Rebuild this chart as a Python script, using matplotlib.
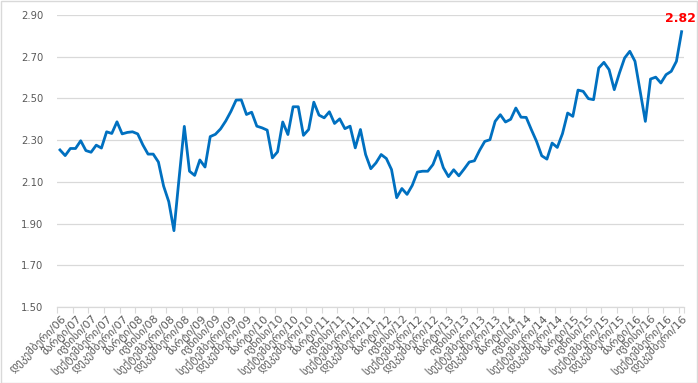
import matplotlib
matplotlib.use("Agg")
import matplotlib.pyplot as plt
from matplotlib.patches import Rectangle

values = [2.253, 2.226, 2.26, 2.26, 2.297, 2.25, 2.242, 2.276, 2.262, 2.34,
          2.332, 2.388, 2.33, 2.337, 2.34, 2.33, 2.277, 2.233, 2.233, 2.195,
          2.08, 2.005, 1.866, 2.12, 2.366, 2.151, 2.131, 2.205, 2.171, 2.317,
          2.328, 2.354, 2.392, 2.438, 2.492, 2.493, 2.423, 2.434, 2.367, 2.359,
          2.348, 2.215, 2.244, 2.387, 2.327, 2.46, 2.46, 2.323, 2.351, 2.482,
          2.42, 2.407, 2.436, 2.38, 2.402, 2.355, 2.367, 2.263, 2.351, 2.231,
          2.163, 2.191, 2.231, 2.212, 2.159, 2.024, 2.068, 2.04, 2.083, 2.147,
          2.151, 2.151, 2.183, 2.247, 2.168, 2.125, 2.158, 2.129, 2.161, 2.195,
          2.201, 2.251, 2.294, 2.302, 2.39, 2.422, 2.387, 2.40, 2.454, 2.41,
          2.409, 2.35, 2.294, 2.225, 2.209, 2.286, 2.265, 2.331, 2.43, 2.414,
          2.54, 2.534, 2.499, 2.494, 2.646, 2.673, 2.638, 2.542, 2.622, 2.694,
          2.726, 2.678, 2.534, 2.39, 2.593, 2.602, 2.574, 2.614, 2.63, 2.678,
          2.82]

months = ["მარტი", "ივნისი", "სექტემბერი", "დეკემბერი"]
years = ["07", "08", "09", "10", "11", "12", "13", "14", "15", "16"]
tick_labels = ["დეკემბერი/06"] + [f"{m}/{y}" for y in years for m in months]
y_ticks = [1.50, 1.70, 1.90, 2.10, 2.30, 2.50, 2.70, 2.90]

fig = plt.figure(figsize=(6.98, 3.83), dpi=100)
ax = fig.add_axes([57.4 / 698, 1 - 307 / 383, (684.2 - 57.4) / 698, (307 - 15) / 383])

x = list(range(len(values)))
ax.plot(x, values, color="#0070C0", linewidth=2.0, solid_joinstyle="round", zorder=3)

ax.set_xlim(-0.5, len(values) - 0.5)
ax.set_ylim(y_ticks[0], y_ticks[-1])
ax.set_yticks(y_ticks)
ax.set_yticklabels([f"{t:.2f}" for t in y_ticks], color="#595959", fontsize=7.2)
ax.tick_params(axis="y", length=0, pad=10)

label_pos = list(range(0, len(values), 3))
ax.set_xticks(label_pos)
ax.set_xticklabels(tick_labels, rotation=45, ha="right", va="top",
                   rotation_mode="anchor", color="#595959", fontsize=8.0,
                   family="DejaVu Sans")
ax.tick_params(axis="x", length=0, pad=4)
ax.set_xticks([p - 0.5 for p in label_pos] + [len(values) - 0.5], minor=True)
ax.tick_params(axis="x", which="minor", length=4, color="#D9D9D9", width=0.8)

ax.grid(axis="y", color="#D9D9D9", linewidth=0.9)
for s in ["top", "right", "left"]:
    ax.spines[s].set_visible(False)
ax.spines["bottom"].set_color("#D9D9D9")
ax.spines["bottom"].set_linewidth(0.9)

ax.annotate(f"{values[-1]:.2f}", xy=(x[-1], values[-1]), xytext=(-1, 5),
            textcoords="offset points", ha="center", va="bottom",
            color="#FF0000", fontweight="bold", fontsize=9)

fig.patches.append(Rectangle((0.001, 0.001), 0.997, 0.996, transform=fig.transFigure,
                             fill=False, edgecolor="#D9D9D9", linewidth=1))

fig.savefig("out.png", dpi=100)
